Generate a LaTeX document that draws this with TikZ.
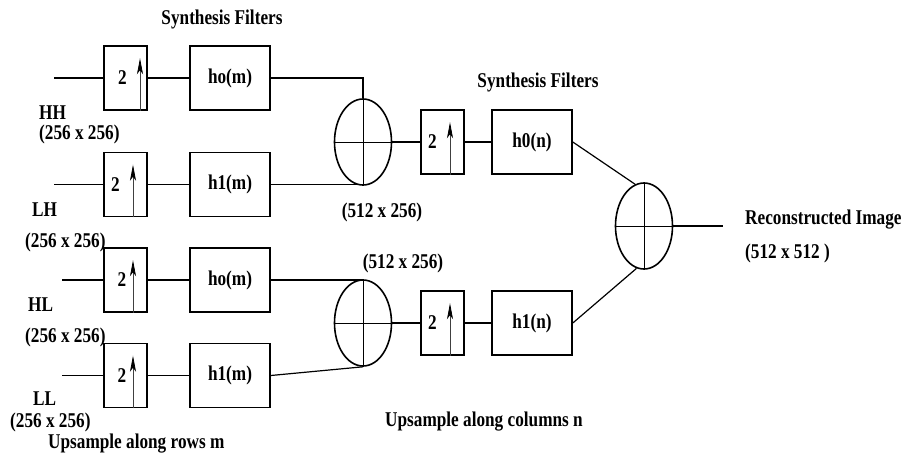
\documentclass[tikz,border=0pt]{standalone}
\usepackage{fontspec}
\setmainfont{Liberation Serif}[FakeStretch=0.82]
\usetikzlibrary{arrows.meta,positioning,shapes.geometric}

\tikzset{
  every node/.style={font=\bfseries\fontsize{21}{23}\selectfont},
  upbox/.style={draw, line width=1.6pt, minimum width=43pt, minimum height=64pt,
    inner sep=0pt, label={[xshift=#1]center:2}},
  upbox/.default=-8pt,
  filt/.style={draw, line width=1.6pt, minimum width=80pt, minimum height=64pt, inner sep=0pt},
  adder/.style={draw, ellipse, line width=1.6pt, minimum width=57pt, minimum height=86pt, inner sep=0pt},
  wire/.style={line width=1.2pt},
  uparrow/.style={line width=0.8pt, black!75, -{Stealth[length=16pt,width=6pt,inset=4pt,black]}},
}

\begin{document}
\begin{tikzpicture}[x=1pt, y=-1pt]
  \useasboundingbox (0,0) rectangle (905,461);
  % Row filters
  \node[upbox=-3pt] (u1) at (125.5,78) {};
  \node[upbox=-10pt] (u2) at (125.5,184.5) {};
  \node[upbox=-3.5pt] (u3) at (125.5,280) {};
  \node[upbox=-3.5pt] (u4) at (125.5,375.5) {};
  \node[filt] (f1) at (230,78) {ho(m)};
  \node[filt] (f2) at (230,184.5) {h1(m)};
  \node[filt] (f3) at (230,280) {ho(m)};
  \node[filt] (f4) at (230,375.5) {h1(m)};
  % Adders
  \node[adder] (e1) at (363,142) {};
  \node[adder] (e2) at (363,323) {};
  \node[adder] (e3) at (644,226) {};
  \foreach \e in {e1,e2,e3}
    \draw[line width=1pt] (\e.west) -- (\e.east) (\e.north) -- (\e.south);
  % Column filters
  \node[upbox=-10pt] (u5) at (442.5,142) {};
  \node[upbox=-10pt] (u6) at (442.5,323) {};
  \node[filt] (g1) at (532,142) {h0(n)};
  \node[filt] (g2) at (532,323) {h1(n)};
  % Upsample arrows
  \foreach \b/\s in {u1/14.5,u2/7.5,u3/7.5,u4/7.5,u5/7.5,u6/7.5}
    \draw[uparrow] ([xshift=\s pt]\b.south) -- ([xshift=\s pt,yshift=-13pt]\b.north);
  % Inputs and output
  \coordinate (in1) at (54,78);
  \coordinate (in2) at (54,184.5);
  \coordinate (in3) at (62,280);
  \coordinate (in4) at (62,375.5);
  \coordinate (out) at (723,226);
  % Connections
  \foreach \i in {1,2,3,4}
    \draw[wire] (in\i) -- (u\i) (u\i) -- (f\i);
  \draw[wire] (f1.east) -| (e1.north);
  \draw[wire] (f2.east) -| (e1.south);
  \draw[wire] (f3.east) -| (e2.north);
  \draw[wire] (f4.east) -- (e2.south);
  \draw[wire] (e1.east) -- (u5) (u5) -- (g1);
  \draw[wire] (e2.east) -- (u6) (u6) -- (g2);
  \draw[wire] (g1.east) -- (e3.102);
  \draw[wire] (g2.east) -- (e3.260);
  \draw[wire] (e3.east) -- (out);
  % Labels
  \node (syn1) at (222,19) {Synthesis Filters};
  \node (syn2) at (538,82) {Synthesis Filters};
  \node[anchor=west, inner sep=0pt] (hh) at (39,113) {HH};
  \node[anchor=west, inner sep=0pt] (hhs) at (39,134) {(256 x 256)};
  \node[anchor=west, inner sep=0pt] (lh) at (32,210) {LH};
  \node[anchor=west, inner sep=0pt] (lhs) at (25,242) {(256 x 256)};
  \node[anchor=west, inner sep=0pt] (hl) at (28,305) {HL};
  \node[anchor=west, inner sep=0pt] (hls) at (25,337) {(256 x 256)};
  \node[anchor=west, inner sep=0pt] (ll) at (33,399) {LL};
  \node[anchor=west, inner sep=0pt] (lls) at (10,422) {(256 x 256)};
  \node[anchor=west, inner sep=0pt] (rows) at (48,444) {Upsample along rows m};
  \node (sz1) at (382,212) {(512 x 256)};
  \node (sz2) at (403,263) {(512 x 256)};
  \node (cols) at (484,422) {Upsample along columns n};
  \node[anchor=west, inner sep=0pt] (rec) at (745,220) {Reconstructed Image};
  \node[anchor=west, inner sep=0pt] (recs) at (745,253) {(512 x 512 )};
\end{tikzpicture}
\end{document}
